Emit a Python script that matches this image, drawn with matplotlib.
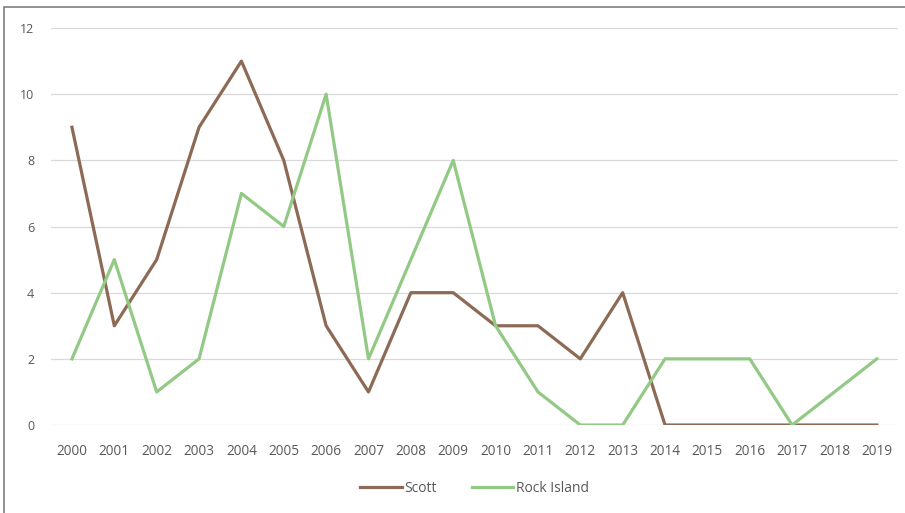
import numpy as np
import matplotlib.pyplot as plt
from matplotlib.patches import Rectangle

years = [str(y) for y in range(2000, 2020)]
scott = [9, 3, 5, 9, 11, 8, 3, 1, 4, 4, 3, 3, 2, 4, 0, 0, 0, 0, 0, 0]
rock_island = [2, 5, 1, 2, 7, 6, 10, 2, 5, 8, 3, 1, 0, 0, 2, 2, 2, 0, 1, 2]

plt.rcParams['font.family'] = ['Open Sans', 'DejaVu Sans']

fig = plt.figure(figsize=(9.05, 5.13), dpi=100)
ax = fig.add_axes([0.0561, 0.1715, 0.9362, 0.7739])

x = np.arange(len(years))
ax.plot(x, scott, color='#8c6a55', lw=2.3, label='Scott', zorder=3)
ax.plot(x, rock_island, color='#92ca85', lw=2.3, label='Rock Island', zorder=3)

ax.set_xlim(-0.5, len(years) - 0.5)
ax.set_ylim(0, 12)
ax.set_yticks(range(0, 13, 2))
ax.set_xticks(x)
ax.set_xticklabels(years)
ax.grid(axis='y', color='#d9d9d9', lw=0.9)
ax.set_axisbelow(True)
for s in ax.spines.values():
    s.set_visible(False)
ax.tick_params(length=0, colors='#595959', labelsize=9)
ax.tick_params(axis='x', labelsize=9.8, pad=14)
ax.tick_params(axis='y', pad=12)

ax.legend(loc='upper center', bbox_to_anchor=(0.5, -0.11), ncol=2, frameon=False,
          fontsize=10, labelcolor='#595959', handlelength=3, handletextpad=0.2,
          columnspacing=2.5)

# outer border of the original chart box
fig.patches.append(Rectangle((4 / 905, -0.2), 1.5, 1.2 - 7 / 513,
                             transform=fig.transFigure, fill=False,
                             edgecolor='#7f7f7f', lw=1.2))

fig.savefig('out.png', dpi=100)
